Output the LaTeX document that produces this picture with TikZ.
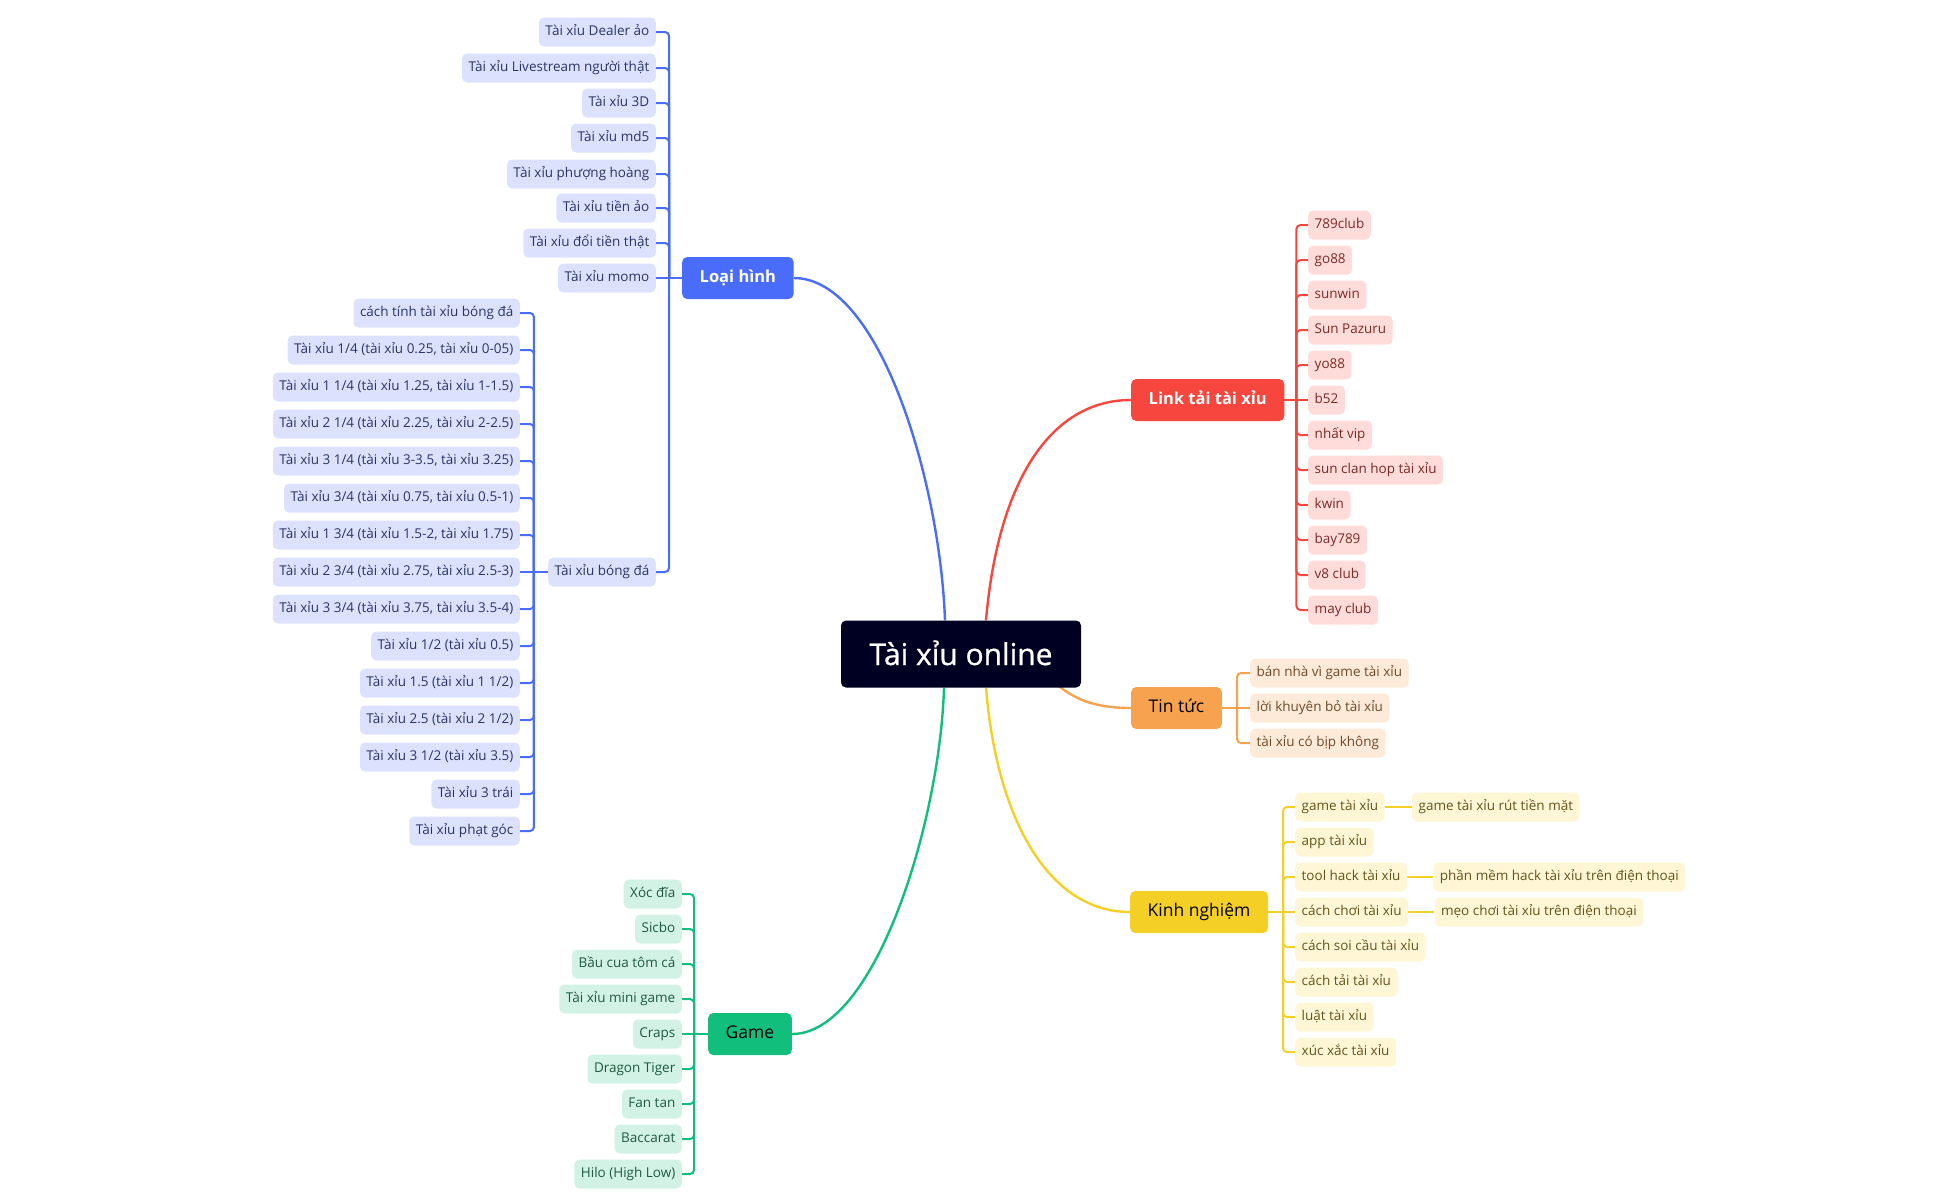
\documentclass[tikz,border=0pt]{standalone}
\usepackage{fontspec}
\setmainfont{Open Sans}
\newfontfamily\centfont{Open Sans}[FakeBold=0.8]
\usetikzlibrary{calc}
\pgfdeclarelayer{bg}
\pgfsetlayers{bg,main}
\definecolor{BlueM}{HTML}{4A6CFA}\definecolor{BlueL}{HTML}{DCE2FD}\definecolor{BlueT}{HTML}{2B3566}
\definecolor{RedM}{HTML}{F7463D}\definecolor{RedL}{HTML}{FFDCDA}\definecolor{RedT}{HTML}{7A2A26}
\definecolor{OrM}{HTML}{F7A24E}\definecolor{OrL}{HTML}{FEEAD8}\definecolor{OrT}{HTML}{6E4A2A}
\definecolor{YeM}{HTML}{F4D027}\definecolor{YeL}{HTML}{FEF6D5}\definecolor{YeT}{HTML}{65551C}
\definecolor{GrM}{HTML}{12BE7C}\definecolor{GrL}{HTML}{D3F2E6}\definecolor{GrT}{HTML}{1E5A42}
\definecolor{CenM}{HTML}{000022}
\tikzset{
  leaf/.style={rounded corners=5pt, inner xsep=6.5pt, inner ysep=0pt, minimum height=29pt,
    text height=10pt, text depth=3pt, font=\fontsize{13.5}{16}\selectfont},
  bleaf/.style={leaf, fill=BlueL, text=BlueT},
  rleaf/.style={leaf, fill=RedL, text=RedT},
  oleaf/.style={leaf, fill=OrL, text=OrT},
  yleaf/.style={leaf, fill=YeL, text=YeT},
  gleaf/.style={leaf, fill=GrL, text=GrT},
  mainbox/.style={rounded corners=5pt, inner xsep=17.5pt, inner ysep=0pt, minimum height=42pt,
    text height=12.5pt, text depth=4pt, font=\fontsize{17.5}{21}\selectfont},
  boldmain/.style={mainbox, text=white, font=\fontsize{16.5}{20}\selectfont\bfseries},
  centbox/.style={rounded corners=5pt, fill=CenM, text=white, minimum width=240pt, minimum height=67pt,
    inner sep=0pt, text height=22pt, text depth=0pt, font=\centfont\fontsize{30}{35}\selectfont},
  mainlink/.style={line width=2.4pt},
  branch/.style={line width=2pt, rounded corners=4pt},
}
\begin{document}
\begin{tikzpicture}[x=1pt,y=-1pt]
\useasboundingbox (0,-2) rectangle (1943,1201);
% central
\node[centbox] (c) at (961,652) {Tài xỉu online};
% main nodes
\node[boldmain, fill=BlueM, anchor=west] (lh) at (682,276) {Loại hình};
\node[boldmain, fill=RedM, anchor=west] (lt) at (1131,398) {Link tải tài xỉu};
\node[mainbox, fill=OrM, text=black, anchor=west] (tt) at (1131,706) {Tin tức};
\node[mainbox, fill=YeM, text=black, anchor=west] (kn) at (1130,910) {Kinh nghiệm};
\node[mainbox, fill=GrM, text=black, anchor=west] (gm) at (708,1032) {Game};
% Loai hinh leaves
\node[bleaf, anchor=east] (b1) at (656,30) {Tài xỉu Dealer ảo};
\node[bleaf, anchor=east] (b2) at (656,66) {Tài xỉu Livestream người thật};
\node[bleaf, anchor=east] (b3) at (656,101) {Tài xỉu 3D};
\node[bleaf, anchor=east] (b4) at (656,136) {Tài xỉu md5};
\node[bleaf, anchor=east] (b5) at (656,172) {Tài xỉu phượng hoàng};
\node[bleaf, anchor=east] (b6) at (656,206) {Tài xỉu tiền ảo};
\node[bleaf, anchor=east] (b7) at (656,241) {Tài xỉu đổi tiền thật};
\node[bleaf, anchor=east] (b8) at (656,276) {Tài xỉu momo};
\node[bleaf, anchor=east] (bd) at (656,570) {Tài xỉu bóng đá};
% bong da leaves
\node[bleaf, anchor=east] (s1) at (520,311) {cách tính tài xỉu bóng đá};
\node[bleaf, anchor=east] (s2) at (520,348) {Tài xỉu 1/4 (tài xỉu 0.25, tài xỉu 0-05)};
\node[bleaf, anchor=east] (s3) at (520,385) {Tài xỉu 1 1/4 (tài xỉu 1.25, tài xỉu 1-1.5)};
\node[bleaf, anchor=east] (s4) at (520,422) {Tài xỉu 2 1/4 (tài xỉu 2.25, tài xỉu 2-2.5)};
\node[bleaf, anchor=east] (s5) at (520,459) {Tài xỉu 3 1/4 (tài xỉu 3-3.5, tài xỉu 3.25)};
\node[bleaf, anchor=east] (s6) at (520,496) {Tài xỉu 3/4 (tài xỉu 0.75, tài xỉu 0.5-1)};
\node[bleaf, anchor=east] (s7) at (520,533) {Tài xỉu 1 3/4 (tài xỉu 1.5-2, tài xỉu 1.75)};
\node[bleaf, anchor=east] (s8) at (520,570) {Tài xỉu 2 3/4 (tài xỉu 2.75, tài xỉu 2.5-3)};
\node[bleaf, anchor=east] (s9) at (520,607) {Tài xỉu 3 3/4 (tài xỉu 3.75, tài xỉu 3.5-4)};
\node[bleaf, anchor=east] (s10) at (520,644) {Tài xỉu 1/2 (tài xỉu 0.5)};
\node[bleaf, anchor=east] (s11) at (520,681) {Tài xỉu 1.5 (tài xỉu 1 1/2)};
\node[bleaf, anchor=east] (s12) at (520,718) {Tài xỉu 2.5 (tài xỉu 2 1/2)};
\node[bleaf, anchor=east] (s13) at (520,755) {Tài xỉu 3 1/2 (tài xỉu 3.5)};
\node[bleaf, anchor=east] (s14) at (520,792) {Tài xỉu 3 trái};
\node[bleaf, anchor=east] (s15) at (520,829) {Tài xỉu phạt góc};
% Link tai leaves
\node[rleaf, anchor=west] (r1) at (1308,223) {789club};
\node[rleaf, anchor=west] (r2) at (1308,258) {go88};
\node[rleaf, anchor=west] (r3) at (1308,293) {sunwin};
\node[rleaf, anchor=west] (r4) at (1308,328) {Sun Pazuru};
\node[rleaf, anchor=west] (r5) at (1308,363) {yo88};
\node[rleaf, anchor=west] (r6) at (1308,398) {b52};
\node[rleaf, anchor=west] (r7) at (1308,433) {nhất vip};
\node[rleaf, anchor=west] (r8) at (1308,468) {sun clan hop tài xỉu};
\node[rleaf, anchor=west] (r9) at (1308,503) {kwin};
\node[rleaf, anchor=west] (r10) at (1308,538) {bay789};
\node[rleaf, anchor=west] (r11) at (1308,573) {v8 club};
\node[rleaf, anchor=west] (r12) at (1308,608) {may club};
% Tin tuc leaves
\node[oleaf, anchor=west] (o1) at (1250,671) {bán nhà vì game tài xỉu};
\node[oleaf, anchor=west] (o2) at (1250,706) {lời khuyên bỏ tài xỉu};
\node[oleaf, anchor=west] (o3) at (1250,741) {tài xỉu có bịp không};
% Kinh nghiem leaves
\node[yleaf, anchor=west] (k1) at (1295,805) {game tài xỉu};
\node[yleaf, anchor=west] (k2) at (1295,840) {app tài xỉu};
\node[yleaf, anchor=west] (k3) at (1295,875) {tool hack tài xỉu};
\node[yleaf, anchor=west] (k4) at (1295,910) {cách chơi tài xỉu};
\node[yleaf, anchor=west] (k5) at (1295,945) {cách soi cầu tài xỉu};
\node[yleaf, anchor=west] (k6) at (1295,980) {cách tải tài xỉu};
\node[yleaf, anchor=west] (k7) at (1295,1015) {luật tài xỉu};
\node[yleaf, anchor=west] (k8) at (1295,1050) {xúc xắc tài xỉu};
\node[yleaf, anchor=west] (k1a) at ($(k1.east)+(27,0)$) {game tài xỉu rút tiền mặt};
\node[yleaf, anchor=west] (k3a) at ($(k3.east)+(26,0)$) {phần mềm hack tài xỉu trên điện thoại};
\node[yleaf, anchor=west] (k4a) at ($(k4.east)+(26,0)$) {mẹo chơi tài xỉu trên điện thoại};
% Game leaves
\node[gleaf, anchor=east] (g1) at (682,892) {Xóc đĩa};
\node[gleaf, anchor=east] (g2) at (682,927) {Sicbo};
\node[gleaf, anchor=east] (g3) at (682,962) {Bầu cua tôm cá};
\node[gleaf, anchor=east] (g4) at (682,997) {Tài xỉu mini game};
\node[gleaf, anchor=east] (g5) at (682,1032) {Craps};
\node[gleaf, anchor=east] (g6) at (682,1067) {Dragon Tiger};
\node[gleaf, anchor=east] (g7) at (682,1102) {Fan tan};
\node[gleaf, anchor=east] (g8) at (682,1137) {Baccarat};
\node[gleaf, anchor=east] (g9) at (682,1172) {Hilo (High Low)};
% junctions
\coordinate (jl) at ($(lh.west)+(-13,0)$);
\coordinate (jb) at ($(bd.west)+(-14,0)$);
\coordinate (jr) at ($(lt.east)+(12,0)$);
\coordinate (jo) at ($(o2.west)+(-13,0)$);
\coordinate (jy) at ($(k4.west)+(-12,0)$);
\coordinate (jg) at ($(gm.west)+(-14,0)$);
\coordinate (cb) at ($(c.north)+(-16,0)$);
\coordinate (cr) at ($(c.north)+(25,0)$);
\coordinate (cg) at ($(c.south)+(-17,0)$);
\coordinate (cy) at ($(c.south)+(25,0)$);
\coordinate (co) at ($(c.center)+(80,14)$);
\begin{pgfonlayer}{bg}
% main curves
\draw[mainlink, BlueM] (lh.east) .. controls (880,276) and (940,480) .. (cb);
\draw[mainlink, RedM] (cr) .. controls (998,480) and (1050,398) .. (lt.west);
\draw[mainlink, GrM] (gm.east) .. controls (875,1032) and (940,820) .. (cg);
\draw[mainlink, YeM] (cy) .. controls (997,820) and (1050,910) .. (kn.west);
\draw[mainlink, OrM] (co) .. controls (1065,695) and (1090,706) .. (tt.west);
% blue branches
\draw[branch, BlueM] (lh.west) -- (jl);
\foreach \n in {b1,b2,b3,b4,b5,b6,b7,bd} \draw[branch, BlueM] (jl) |- (\n.east);
\draw[branch, BlueM] (jl) -- (b8.east);
\draw[branch, BlueM] (bd.west) -- (jb);
\foreach \n in {s1,s2,s3,s4,s5,s6,s7,s9,s10,s11,s12,s13,s14,s15} \draw[branch, BlueM] (jb) |- (\n.east);
\draw[branch, BlueM] (jb) -- (s8.east);
% red branches
\draw[branch, RedM] (lt.east) -- (jr);
\foreach \n in {r1,r2,r3,r4,r5,r7,r8,r9,r10,r11,r12} \draw[branch, RedM] (jr) |- (\n.west);
\draw[branch, RedM] (jr) -- (r6.west);
% orange branches
\draw[branch, OrM] (tt.east) -- (jo);
\foreach \n in {o1,o3} \draw[branch, OrM] (jo) |- (\n.west);
\draw[branch, OrM] (jo) -- (o2.west);
% yellow branches
\draw[branch, YeM] (kn.east) -- (jy);
\foreach \n in {k1,k2,k3,k5,k6,k7,k8} \draw[branch, YeM] (jy) |- (\n.west);
\draw[branch, YeM] (jy) -- (k4.west);
\draw[branch, YeM] (k1.east) -- (k1a.west);
\draw[branch, YeM] (k3.east) -- (k3a.west);
\draw[branch, YeM] (k4.east) -- (k4a.west);
% green branches
\draw[branch, GrM] (gm.west) -- (jg);
\foreach \n in {g1,g2,g3,g4,g6,g7,g8,g9} \draw[branch, GrM] (jg) |- (\n.east);
\draw[branch, GrM] (jg) -- (g5.east);
\end{pgfonlayer}
\end{tikzpicture}
\end{document}
